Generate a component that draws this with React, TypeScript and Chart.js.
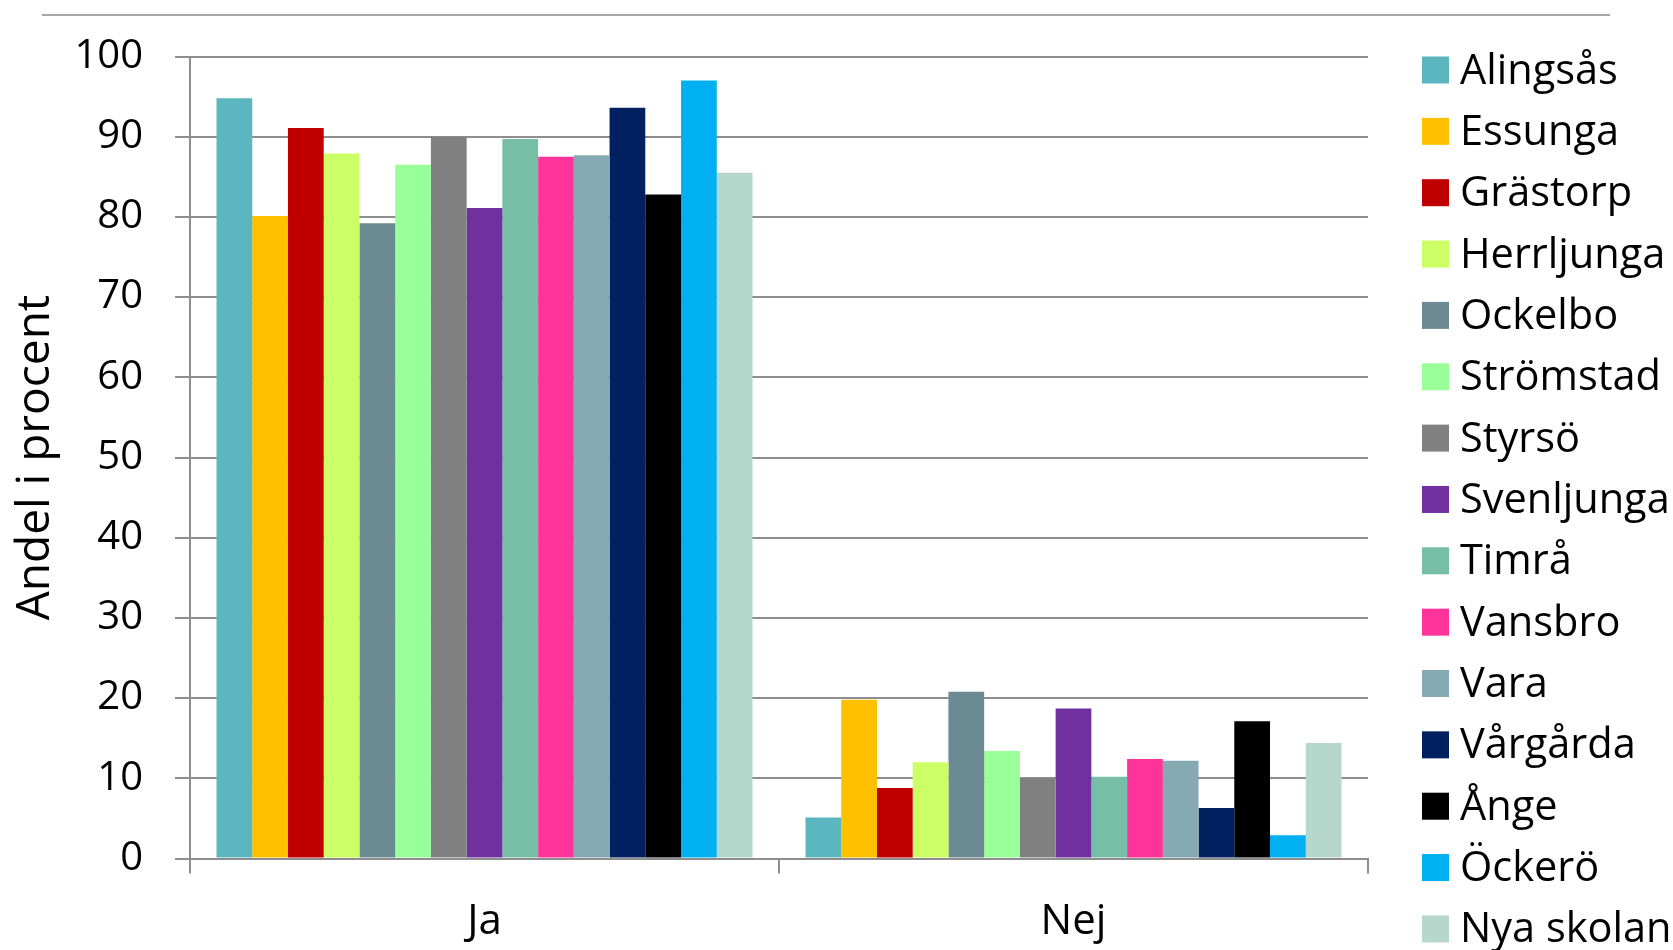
import { useEffect, useRef } from 'react';
import { Chart, registerables } from 'chart.js';

Chart.register(...registerables);

const categories = ['Ja', 'Nej'];

const schools = [
  'Alingsås', 'Essunga', 'Grästorp', 'Herrljunga', 'Ockelbo', 'Strömstad', 'Styrsö',
  'Svenljunga', 'Timrå', 'Vansbro', 'Vara', 'Vårgårda', 'Ånge', 'Öckerö', 'Nya skolan',
];

const jaValues = [94.8, 80.1, 91.1, 87.9, 79.2, 86.5, 90.0, 81.1, 89.7, 87.5, 87.7, 93.6, 82.8, 97.0, 85.5];
const nejValues = [5.1, 19.8, 8.8, 12.0, 20.8, 13.4, 10.0, 18.7, 10.2, 12.4, 12.2, 6.3, 17.1, 2.9, 14.4];

const colors = [
  '#5BB6C0', '#FFC000', '#C00000', '#CCFF66', '#6B8A93', '#99FF99', '#808080',
  '#7030A0', '#76BEA5', '#FF3399', '#86AAB4', '#002060', '#000000', '#00B0F0', '#B6D7CC',
];

const FONT = "'Open Sans', 'Noto Sans', sans-serif";

const decorPlugin = {
  id: 'decor',
  afterDraw(chart: any) {
    const ctx = chart.ctx as CanvasRenderingContext2D;
    ctx.save();
    // top separator line
    ctx.strokeStyle = '#A6A6A6';
    ctx.lineWidth = 2;
    ctx.beginPath();
    ctx.moveTo(42, 15);
    ctx.lineTo(1610, 15);
    ctx.stroke();
    // legend
    const ds = chart.data.datasets;
    ctx.font = `41.5px ${FONT}`;
    ctx.textBaseline = 'alphabetic';
    ctx.textAlign = 'left';
    for (let i = 0; i < ds.length; i++) {
      const cy = 70 + i * 61.35;
      ctx.fillStyle = ds[i].backgroundColor as string;
      ctx.fillRect(1422, cy - 13.5, 27, 27);
      ctx.fillStyle = '#000';
      ctx.fillText(ds[i].label, 1460, cy + 13.5);
    }
    ctx.restore();
  },
};

export default function App() {
  const ref = useRef<HTMLCanvasElement>(null);
  useEffect(() => {
    const chart = new Chart(ref.current!, {
      type: 'bar',
      data: {
        labels: categories,
        datasets: schools.map((s, i) => ({
          label: s,
          data: [jaValues[i], nejValues[i]],
          backgroundColor: colors[i],
          borderWidth: 0,
          categoryPercentage: 0.91,
          barPercentage: 1,
        })),
      },
      options: {
        responsive: false,
        animation: false,
        layout: { padding: { left: 0, right: 305, top: 56.5, bottom: 0 } },
        plugins: { legend: { display: false }, tooltip: { enabled: false } },
        scales: {
          x: {
            grid: {
              display: true,
              drawOnChartArea: false,
              drawTicks: true,
              tickLength: 15,
              color: '#8E8E8E',
              lineWidth: 2,
              offset: true,
            },
            border: { color: '#8E8E8E', width: 2 },
            ticks: { font: { family: FONT, size: 42 }, color: '#000', padding: 23 },
            afterFit: (s: any) => { s.height = 91.5; },
          },
          y: {
            min: 0,
            max: 100,
            ticks: { stepSize: 10, font: { family: FONT, size: 40 }, color: '#000', padding: 32 },
            grid: { color: '#8E8E8E', lineWidth: 2, tickLength: 15 },
            border: { color: '#8E8E8E', width: 2 },
            title: {
              display: true,
              text: 'Andel i procent',
              font: { family: FONT, size: 46 },
              color: '#000',
              padding: { top: 8, bottom: 0 },
            },
            afterFit: (s: any) => { s.width = 190; },
          },
        },
      },
      plugins: [decorPlugin],
    });
    return () => chart.destroy();
  }, []);
  return (
    <div style={{ position: 'absolute', left: 0, top: 0, width: 1673, height: 950, background: '#fff' }}>
      <canvas ref={ref} width={1673} height={950} style={{ display: 'block' }} />
    </div>
  );
}
